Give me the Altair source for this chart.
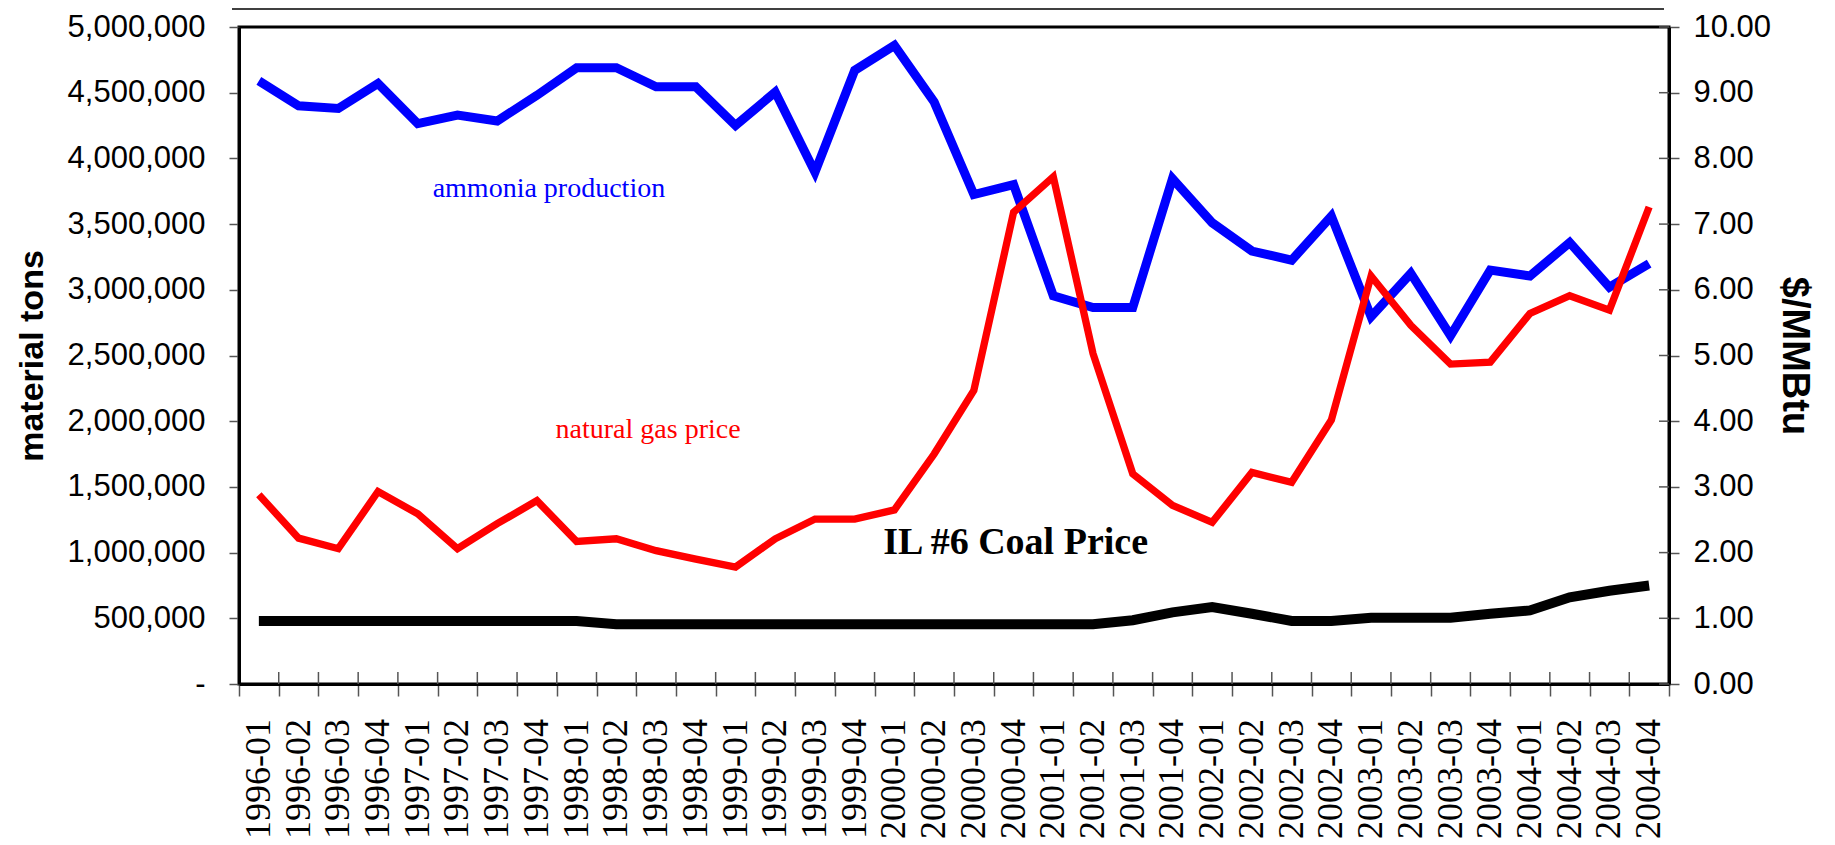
import altair as alt
import pandas as pd

quarters = [
    "1996-01", "1996-02", "1996-03", "1996-04",
    "1997-01", "1997-02", "1997-03", "1997-04",
    "1998-01", "1998-02", "1998-03", "1998-04",
    "1999-01", "1999-02", "1999-03", "1999-04",
    "2000-01", "2000-02", "2000-03", "2000-04",
    "2001-01", "2001-02", "2001-03", "2001-04",
    "2002-01", "2002-02", "2002-03", "2002-04",
    "2003-01", "2003-02", "2003-03", "2003-04",
    "2004-01", "2004-02", "2004-03", "2004-04",
]

# ammonia production, material tons
ammonia = [
    4590000, 4400000, 4380000, 4570000,
    4265000, 4330000, 4285000, 4480000,
    4690000, 4690000, 4545000, 4545000,
    4250000, 4505000, 3895000, 4670000,
    4860000, 4430000, 3725000, 3800000,
    2955000, 2865000, 2865000, 3845000,
    3510000, 3295000, 3225000, 3560000,
    2795000, 3125000, 2650000, 3150000,
    3105000, 3360000, 3020000, 3200000,
]

# natural gas price, $/MMBtu
gas_price = [
    2.88, 2.22, 2.06, 2.93,
    2.59, 2.06, 2.44, 2.79,
    2.17, 2.21, 2.03, 1.90,
    1.78, 2.21, 2.51, 2.51,
    2.65, 3.50, 4.47, 7.18,
    7.72, 5.03, 3.20, 2.72,
    2.46, 3.22, 3.07, 4.02,
    6.21, 5.46, 4.87, 4.90,
    5.64, 5.91, 5.69, 7.26,
]

# IL #6 coal price, $/MMBtu
coal_price = [
    0.96, 0.96, 0.96, 0.96,
    0.96, 0.96, 0.96, 0.96,
    0.96, 0.91, 0.91, 0.91,
    0.91, 0.91, 0.91, 0.91,
    0.91, 0.91, 0.91, 0.91,
    0.91, 0.91, 0.97, 1.09,
    1.17, 1.07, 0.96, 0.96,
    1.01, 1.01, 1.01, 1.07,
    1.12, 1.32, 1.42, 1.50,
]

left_ticks = [0, 500000, 1000000, 1500000, 2000000, 2500000,
              3000000, 3500000, 4000000, 4500000, 5000000]
right_ticks = [0, 1, 2, 3, 4, 5, 6, 7, 8, 9, 10]

ann_left_q = ["1997-04"]
ann_left_v = [3770000]
ann_left_t = ["ammonia production"]

ann_gas_q = ["1998-03"]
ann_gas_v = [3.86]
ann_gas_t = ["natural gas price"]

ann_coal_q = ["2000-04"]
ann_coal_v = [2.14]
ann_coal_t = ["IL #6 Coal Price"]

W, H = 1430, 657
LABEL_FONT = "Liberation Sans"
SERIF = "Liberation Serif"
SANS = "Liberation Sans"

amm_df = pd.DataFrame({"quarter": quarters, "value": ammonia})
gas_df = pd.DataFrame({"quarter": quarters, "value": gas_price})
coal_df = pd.DataFrame({"quarter": quarters, "value": coal_price})
qb_df = pd.DataFrame({"quarter": quarters[1:]})
ql_df = pd.DataFrame({"quarter": quarters})
lt_df = pd.DataFrame({"value": right_ticks})

xscale = alt.Scale(type="band", domain=quarters, paddingInner=0, paddingOuter=0)
yl_scale = alt.Scale(domain=[0, 5000000], nice=False, zero=True)
yr_scale = alt.Scale(domain=[0, 10], nice=False, zero=True)


def xenc(axis=alt.Undefined, band=0.5):
    return alt.X("quarter:N", sort=quarters, scale=xscale, bandPosition=band, axis=axis)


x_axis = alt.Axis(
    title=None, labels=False,
    tickSize=12, tickColor="#555", tickWidth=1.5, tickBand="extent",
    domainColor="black", domainWidth=3,
)

yl_axis = alt.Axis(
    values=left_ticks,
    labelExpr="datum.value == 0 ? '-\u00a0\u00a0\u00a0\u00a0' : format(datum.value, ',')",
    labelFont=LABEL_FONT, labelFontSize=31, labelColor="black", labelPadding=24,
    tickSize=10, tickColor="#555", tickWidth=1.5,
    domainColor="black", domainWidth=3,
    title="material tons", titleFont=SANS, titleFontWeight="bold",
    titleFontSize=34, titleColor="black", titlePadding=18,
)

yr_axis = alt.Axis(
    orient="right", values=right_ticks, format=".2f",
    labelFont=LABEL_FONT, labelFontSize=31, labelColor="black", labelPadding=14,
    tickSize=10, tickColor="#555", tickWidth=1.5,
    domainColor="black", domainWidth=3,
    title="$/MMBtu", titleFont=SANS, titleFontWeight="bold",
    titleFontSize=38, titleColor="black", titlePadding=4,
)

amm_line = alt.Chart(amm_df).mark_line(color="#0000FF", strokeWidth=9).encode(
    x=xenc(x_axis),
    y=alt.Y("value:Q", scale=yl_scale, axis=yl_axis),
)

amm_text = alt.Chart(pd.DataFrame({"quarter": ann_left_q, "value": ann_left_v, "label": ann_left_t})).mark_text(
    font=SERIF, fontSize=28, color="#0000FF", dx=12, align="center", baseline="middle"
).encode(x=xenc(), y=alt.Y("value:Q", scale=yl_scale), text="label:N")

x_inner_ticks = alt.Chart(qb_df).mark_rule(color="#555", strokeWidth=1.5).encode(
    x=xenc(band=0), y=alt.value(H - 12), y2=alt.value(H)
)

# category labels under the axis (serif, rotated)
x_labels = alt.Chart(ql_df).mark_text(
    font=SERIF, fontSize=36, color="black", angle=270, align="right", baseline="middle"
).encode(x=xenc(), y=alt.value(H + 35), text="quarter:N")

top_box = alt.Chart(qb_df.head(1)).mark_rule(color="black", strokeWidth=1.5).encode(
    x=alt.value(-7), x2=alt.value(W - 5), y=alt.value(-18)
)

left = alt.layer(amm_line, amm_text, x_inner_ticks, x_labels, top_box)

gas_line = alt.Chart(gas_df).mark_line(color="#FF0000", strokeWidth=7.3).encode(
    x=xenc(),
    y=alt.Y("value:Q", scale=yr_scale, axis=yr_axis),
)

coal_line = alt.Chart(coal_df).mark_line(color="black", strokeWidth=10).encode(
    x=xenc(),
    y=alt.Y("value:Q", scale=yr_scale),
)

gas_text = alt.Chart(pd.DataFrame({"quarter": ann_gas_q, "value": ann_gas_v, "label": ann_gas_t})).mark_text(
    font=SERIF, fontSize=28, color="#FF0000", dx=-8, align="center", baseline="middle"
).encode(x=xenc(), y=alt.Y("value:Q", scale=yr_scale), text="label:N")

coal_text = alt.Chart(pd.DataFrame({"quarter": ann_coal_q, "value": ann_coal_v, "label": ann_coal_t})).mark_text(
    font=SERIF, fontSize=38, fontWeight="bold", color="black", dx=2, align="center", baseline="middle"
).encode(x=xenc(), y=alt.Y("value:Q", scale=yr_scale), text="label:N")

r_inner_ticks = alt.Chart(lt_df).mark_rule(color="#555", strokeWidth=1.5).encode(
    x=alt.value(W - 10), x2=alt.value(W),
    y=alt.Y("value:Q", scale=yr_scale),
)

right = alt.layer(gas_line, coal_line, gas_text, coal_text, r_inner_ticks)

chart = (
    alt.layer(left, right)
    .resolve_scale(y="independent")
    .properties(
        width=W, height=H,
        autosize=alt.AutoSizeParams(type="none"),
        padding={"left": 231, "top": 19, "right": 150, "bottom": 158},
        background="white",
    )
    .configure_view(stroke="black", strokeWidth=3)
    .configure_axis(grid=False)
)

chart.save("out.html", embed_options={"renderer": "svg", "actions": False})
